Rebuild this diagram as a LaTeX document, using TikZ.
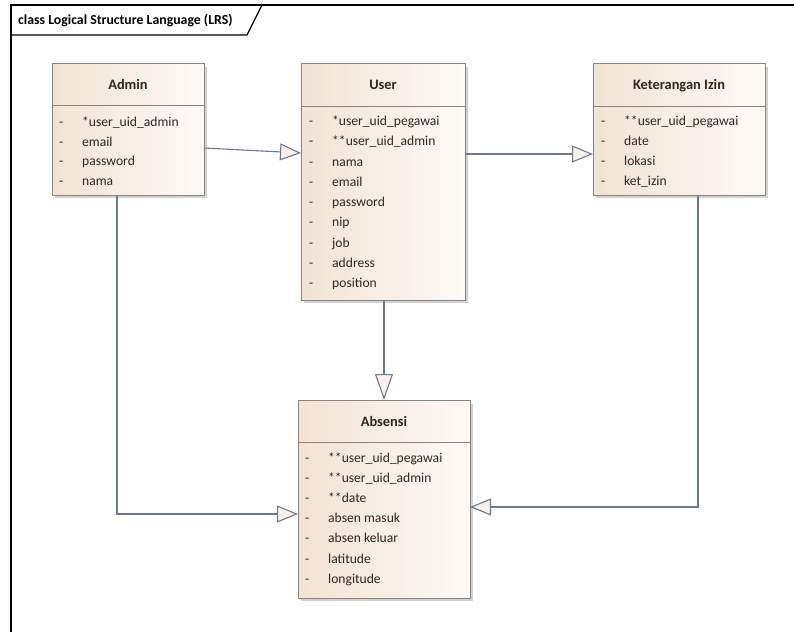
\documentclass[tikz,border=0pt]{standalone}
\usepackage{fontspec}
\setmainfont{Carlito}
\usetikzlibrary{arrows.meta,calc}

\definecolor{clsL}{HTML}{F2E3D4}
\definecolor{clsR}{HTML}{FDFAF7}
\definecolor{clsBorder}{HTML}{8E8280}
\definecolor{linkCol}{HTML}{6B7893}
\definecolor{tipFill}{HTML}{FBF0E8}
\definecolor{txtCol}{HTML}{33261E}

\tikzset{
  classbox/.style={draw=clsBorder, line width=0.9pt, left color=clsL, right color=clsR,
                   inner sep=0pt, outer sep=0pt},
  shadowbox/.style={fill=black!18, draw=none},
  classtitle/.style={font=\bfseries\fontsize{14.4}{16}\selectfont, text=txtCol, anchor=base},
  attr/.style={font=\fontsize{13.6}{15}\selectfont, text=txtCol, anchor=base west, inner sep=0pt},
  realize/.style={draw=linkCol, line width=1.1pt,
                  -{Triangle[length=21pt, width=17pt, fill=tipFill, line width=1.1pt]}},
  realizev/.style={draw=linkCol, line width=1.1pt,
                  -{Triangle[length=26pt, width=18pt, fill=tipFill, line width=1.1pt]}},
  framepen/.style={draw=black, line width=1.3pt}
}

% class box: #1 name, #2 left, #3 top, #4 right, #5 bottom, #6 divider y,
% #7 title baseline y, #8 title
\newcommand{\umlclassbox}[8]{%
  \fill[shadowbox] (#2+3,#3+4) rectangle (#4+3,#5+3);
  \node[classbox, minimum width=#4-#2, minimum height=#5-#3, anchor=north west]
       (#1) at (#2,#3) {};
  \draw[draw=clsBorder, line width=0.9pt] (#2,#6) -- (#4,#6);
  \node[classtitle] (#1-title) at ({(#2+#4)/2},#7) {#8};
}

\begin{document}
\begin{tikzpicture}[x=1pt, y=-1pt]
\useasboundingbox (0,0) rectangle (794,632);
\fill[white] (0,0) rectangle (794,632);

% diagram frame with its name tab
\draw[framepen] (794,5) -- (11,5) -- (11,632);
\draw[framepen] (11,35) -- (247,35) -- (262,5);
\node[font=\bfseries\fontsize{13.8}{15}\selectfont, anchor=base west, inner sep=0pt]
  (frametitle) at (18,24.5) {class Logical Structure Language (LRS)};

% Admin
\umlclassbox{admin}{52}{63}{204}{195}{105}{89}{Admin}
\foreach \t [count=\i from 0] in {*user\_uid\_admin, email, password, nama}{
  \node[attr] (admin-a\i) at (82,126.5+19.7*\i) {\t};
  \node[attr] (admin-d\i) at (59,126.5+19.7*\i) {-};
}

% User
\umlclassbox{user}{301}{63}{465}{300}{106}{89}{User}
\foreach \t [count=\i from 0] in {*user\_uid\_pegawai, **user\_uid\_admin, nama, email,
    password, nip, job, address, position}{
  \node[attr] (user-a\i) at (332,125.5+20.25*\i) {\t};
  \node[attr] (user-d\i) at (309,125.5+20.25*\i) {-};
}

% Keterangan Izin
\umlclassbox{ket}{593}{63}{765}{195}{106}{89}{Keterangan Izin}
\foreach \t [count=\i from 0] in {**user\_uid\_pegawai, date, lokasi, ket\_izin}{
  \node[attr] (ket-a\i) at (624,125.5+20*\i) {\t};
  \node[attr] (ket-d\i) at (601,125.5+20*\i) {-};
}

% Absensi
\umlclassbox{absensi}{298}{400}{470}{598}{442}{426}{Absensi}
\foreach \t [count=\i from 0] in {**user\_uid\_pegawai, **user\_uid\_admin, **date,
    absen masuk, absen keluar, latitude, longitude}{
  \node[attr] (abs-a\i) at (328,462+20.2*\i) {\t};
  \node[attr] (abs-d\i) at (305,462+20.2*\i) {-};
}

% connectors
\draw[realize] ([yshift=-19pt]admin.east) -- ([yshift=28.5pt]user.west);
\draw[realize] ([yshift=27.5pt]user.east) -- ([yshift=-25pt]ket.west);
\draw[realizev] ([xshift=1pt]user.south) -- ([xshift=1pt]user.south |- absensi.north);
\draw[realize] ([xshift=-11pt]admin.south) |- ([yshift=-15pt]absensi.west);
\draw[realize] ([xshift=19pt]ket.south) |- ([yshift=-8pt]absensi.east);
\end{tikzpicture}
\end{document}
